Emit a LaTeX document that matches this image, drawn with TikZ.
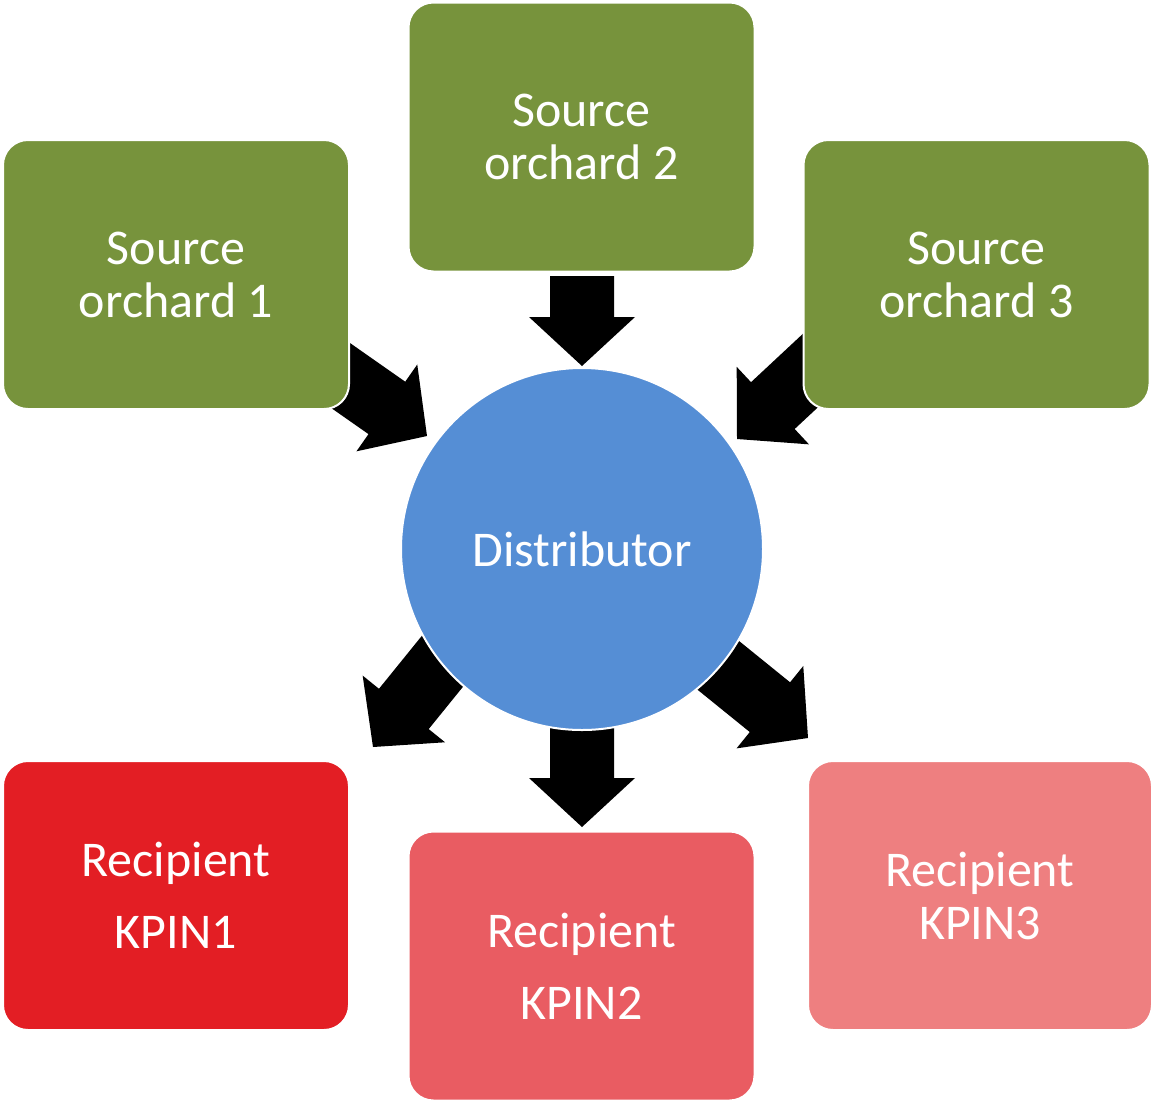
\documentclass[tikz,border=0pt]{standalone}
\usepackage{fontspec}
\setmainfont{Carlito}
\definecolor{olive}{HTML}{77933C}
\definecolor{distblue}{HTML}{558ED5}
\definecolor{redA}{HTML}{E31E24}
\definecolor{redB}{HTML}{E95C62}
\definecolor{redC}{HTML}{EE7F80}
\tikzset{
  box/.style={draw=white, line width=2pt, rounded corners=25pt,
    minimum width=346pt, minimum height=269pt, inner sep=0pt,
    text=white, align=center, font=\fontsize{50}{53}\selectfont},
  wideline/.style={font=\fontsize{50}{72}\selectfont},
  blockarrow/.style={fill=black, draw=none},
}
\newcommand{\blockarr}[3]{% tip coordinate, canvas angle, length
  \begin{scope}[shift={(#1)}, rotate=#2]
    \fill[blockarrow] (0,0) -- (-49,53) -- (-49,32) -- (-#3,32) -- (-#3,-32) -- (-49,-32) -- (-49,-53) -- cycle;
  \end{scope}}
\begin{document}
\begin{tikzpicture}[x=1pt, y=-1pt]
\useasboundingbox (0,0) rectangle (1153,1101);
% arrow tips
\coordinate (tA) at (582,366);
\coordinate (tB) at (427,436);
\coordinate (tC) at (737,439);
\coordinate (tD) at (373,747);
\coordinate (tE) at (582,827);
\coordinate (tF) at (808,738);
\blockarr{tA}{-90}{90}
\blockarr{tB}{-35}{130}
\blockarr{tC}{-137}{130}
\blockarr{tD}{-129}{130}
\blockarr{tE}{-90}{130}
\blockarr{tF}{-39}{130}
% boxes
\node[box, fill=olive] (s1) at (176,274.5) {Source\\orchard 1};
\node[box, fill=olive] (s2) at (581.5,137) {Source\\orchard 2};
\node[box, fill=olive] (s3) at (976.5,274.5) {Source\\orchard 3};
\node[box, fill=redA, wideline] (r1) at (176,895.5) {Recipient\\KPIN1};
\node[box, fill=redB, wideline] (r2) at (581.5,966) {Recipient\\KPIN2};
\node[box, fill=redC, minimum width=344pt] (r3) at (980,895.5) {Recipient\\KPIN3};
\node[circle, draw=white, line width=2pt, fill=distblue, minimum size=362pt, inner sep=0pt,
  text=white, font=\fontsize{50}{55}\selectfont] (dist) at (582,549) {Distributor};
\end{tikzpicture}
\end{document}
